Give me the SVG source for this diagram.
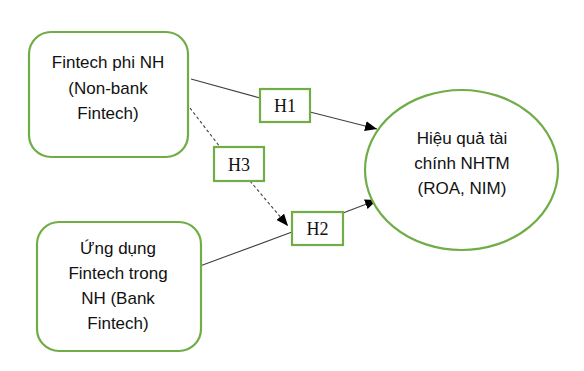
<svg xmlns="http://www.w3.org/2000/svg" width="584" height="371" viewBox="0 0 584 371">
<style>
.node{fill:#fff;stroke:#70AD47;stroke-width:2.2}
.hbox{fill:#fff;stroke:#70AD47;stroke-width:2.2}
.t{font-family:"Liberation Sans",Arial,sans-serif;font-size:17px;fill:#111;text-anchor:middle}
.h{font-family:"Liberation Serif","Times New Roman",serif;font-size:18px;fill:#111;text-anchor:middle}
.c{stroke:#404040;stroke-width:1.1;fill:none}
.d{stroke:#404040;stroke-width:1.1;fill:none;stroke-dasharray:3 2.5}
</style>
<defs>
<marker id="arr" viewBox="0 0 12 10" refX="12" refY="5" markerWidth="12" markerHeight="10" markerUnits="userSpaceOnUse" orient="auto">
<path d="M0,0 L12,5 L0,10 Z" fill="#000"/>
</marker>
</defs>
<rect width="584" height="371" fill="#fff"/>
<g id="connectors">
<line class="c" x1="191" y1="79" x2="260" y2="98"/>
<line class="c" x1="310" y1="112" x2="377" y2="129" marker-end="url(#arr)"/>
<line class="c" x1="200" y1="266" x2="292" y2="232"/>
<line class="c" x1="343" y1="213" x2="377" y2="200" marker-end="url(#arr)"/>
<line class="d" x1="190" y1="108" x2="220" y2="147"/>
<line class="d" x1="250" y1="181" x2="288" y2="226" marker-end="url(#arr)"/>
</g>
<g id="node-nonbank">
<rect class="node" x="29" y="32" width="159" height="125" rx="22"/>
<text class="t" x="108" y="68">Fintech phi NH</text>
<text class="t" x="108" y="94">(Non-bank</text>
<text class="t" x="108" y="119">Fintech)</text>
</g>
<g id="node-bank">
<rect class="node" x="37" y="222" width="164" height="129" rx="22"/>
<text class="t" x="118" y="254">Ứng dụng</text>
<text class="t" x="118" y="279">Fintech trong</text>
<text class="t" x="118" y="304">NH (Bank</text>
<text class="t" x="118" y="329">Fintech)</text>
</g>
<g id="node-perf">
<ellipse class="node" cx="461.5" cy="170" rx="96.5" ry="80"/>
<text class="t" x="462" y="144">Hiệu quả tài</text>
<text class="t" x="462" y="169">chính NHTM</text>
<text class="t" x="462" y="194">(ROA, NIM)</text>
</g>
<g id="h1">
<rect class="hbox" x="260" y="89" width="50" height="33"/>
<text class="h" x="285" y="112">H1</text>
</g>
<g id="h3">
<rect class="hbox" x="214" y="147" width="50" height="34"/>
<text class="h" x="239" y="170.5">H3</text>
</g>
<g id="h2">
<rect class="hbox" x="292" y="212" width="51" height="33"/>
<text class="h" x="317.5" y="235">H2</text>
</g>
</svg>
